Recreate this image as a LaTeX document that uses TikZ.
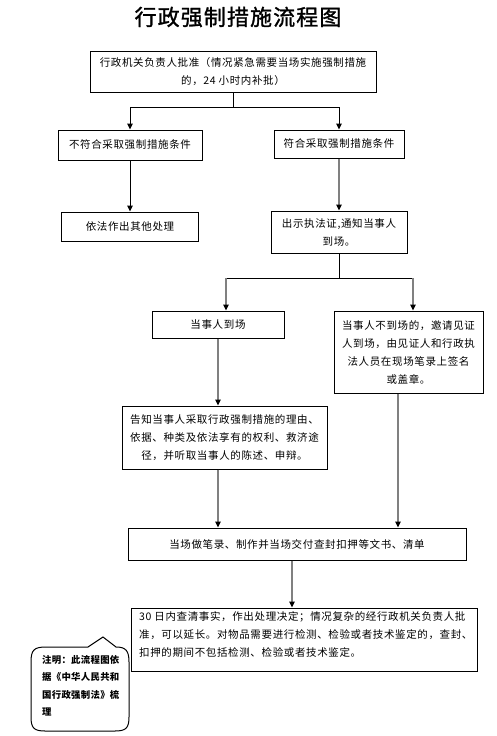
\documentclass[tikz,border=0pt]{standalone}
\usepackage{fontspec}
\usetikzlibrary{arrows.meta,calc}
\newfontfamily\cjkbody{Noto Sans CJK SC}[LetterSpace=6]
\newfontfamily\cjknote{Noto Sans CJK SC}[LetterSpace=3]
\newfontfamily\cjktitle{Noto Sans CJK SC}[LetterSpace=5,FakeBold=1.2]
\begin{document}
\begin{tikzpicture}[x=1pt,y=-1pt,
  box/.style={draw, line width=1pt, inner sep=0pt, align=center,
    font=\cjkbody\fontsize{10.5}{18}\selectfont},
  blk/.style={draw=black, line width=1pt},
  gry/.style={draw=black!50, line width=1.5pt},
  tip/.style={-{Triangle[length=6pt,width=5.5pt,color=black]}}
]
\useasboundingbox[fill=white] (0,0) rectangle (497,736);

\node[font=\cjktitle\fontsize{22}{22}\selectfont] (title) at (238,17) {行政强制措施流程图};

\node[box, minimum width=286pt, minimum height=41pt] (b1) at (233,71.5)
  {行政机关负责人批准（情况紧急需要当场实施强制措施\\的，24 小时内补批）};
\node[box, minimum width=144pt, minimum height=30pt] (b2) at (130,145)
  {不符合采取强制措施条件};
\node[box, minimum width=130pt, minimum height=28pt] (b3) at (339,144)
  {符合采取强制措施条件};
\node[box, minimum width=137pt, minimum height=29pt] (b4) at (130,226.5)
  {依法作出其他处理};
\node[box, minimum width=136pt, minimum height=42pt] (b5) at (339,232)
  {出示执法证,通知当事人\\到场。};
\node[box, minimum width=132pt, minimum height=27pt] (b6) at (218,324.5)
  {当事人到场};
\node[box, minimum width=149pt, minimum height=82pt] (b7) at (408.5,352)
  {当事人不到场的，邀请见证\\人到场，由见证人和行政执\\法人员在现场笔录上签名\\或盖章。};
\node[box, minimum width=205pt, minimum height=63pt] (b8) at (224.5,437.5)
  {告知当事人采取行政强制措施的理由、\\依据、种类及依法享有的权利、救济途\\径，并听取当事人的陈述、申辩。};
\node[box, minimum width=338pt, minimum height=32pt] (b9) at (297,544)
  {当场做笔录、制作并当场交付查封扣押等文书、清单};
\node[box, minimum width=346pt, minimum height=63pt] (b10) at (304,639.5) {};
\node[anchor=north west, inner sep=0pt, align=left,
  font=\cjkbody\fontsize{10.5}{18}\selectfont] (t10) at (139,611)
  {30 日内查清事实，作出处理决定；情况复杂的经行政机关负责人批\\准，可以延长。对物品需要进行检测、检验或者技术鉴定的，查封、\\扣押的期间不包括检测、检验或者技术鉴定。};

% connectors
\coordinate (j1) at (233,107);
\draw[blk] (b1.south) -- (j1);
\draw[blk,tip] (j1) -| (b2.north);
\draw[blk,tip] (j1) -| (b3.north);
\draw[blk,tip] (b2.south) -- (b4.north);
\draw[gry,tip] (b3.south) -- (b5.north);

\coordinate (j2) at (339,278);
\coordinate (j2l) at (226,278);
\coordinate (j2r) at (413,278);
\draw[blk] (b5.south) -- (j2);
\draw[blk] (j2l) -- (j2r);
\draw[gry,tip] (j2l) -- (j2l |- b6.north);
\draw[gry,tip] (j2r) -- (j2r |- b7.north);
\draw[gry,tip] (b6.south) -- (b6.south |- b8.north);
\draw[gry,tip] (b8.south -| b6.south) -- (b6.south |- b9.north);
\draw[gry,tip] ($(b7.south)+(-10.5,0)$) -- ($(b7.south |- b9.north)+(-10.5,0)$);
\draw[gry,tip] ($(b9.south)+(-5,0)$) -- ($(b9.south |- b10.north)+(-5,0)$);

% callout
\draw[line width=1pt] (88,647) -- (103,637) -- (116,647)
  .. controls (126,647) and (129,651) .. (129,662) -- (129,717)
  .. controls (129,728) and (126,731) .. (115,731) -- (45,731)
  .. controls (34,731) and (31,728) .. (31,717) -- (31,662)
  .. controls (31,650) and (34,647) .. (46,647) -- cycle;
\node[anchor=north west, inner sep=0pt, align=left,
  font=\cjknote\bfseries\fontsize{9.4}{17.5}\selectfont] (note) at (42,655)
  {注明：此流程图依\\据《中华人民共和\\国行政强制法》梳\\理};
\end{tikzpicture}
\end{document}
